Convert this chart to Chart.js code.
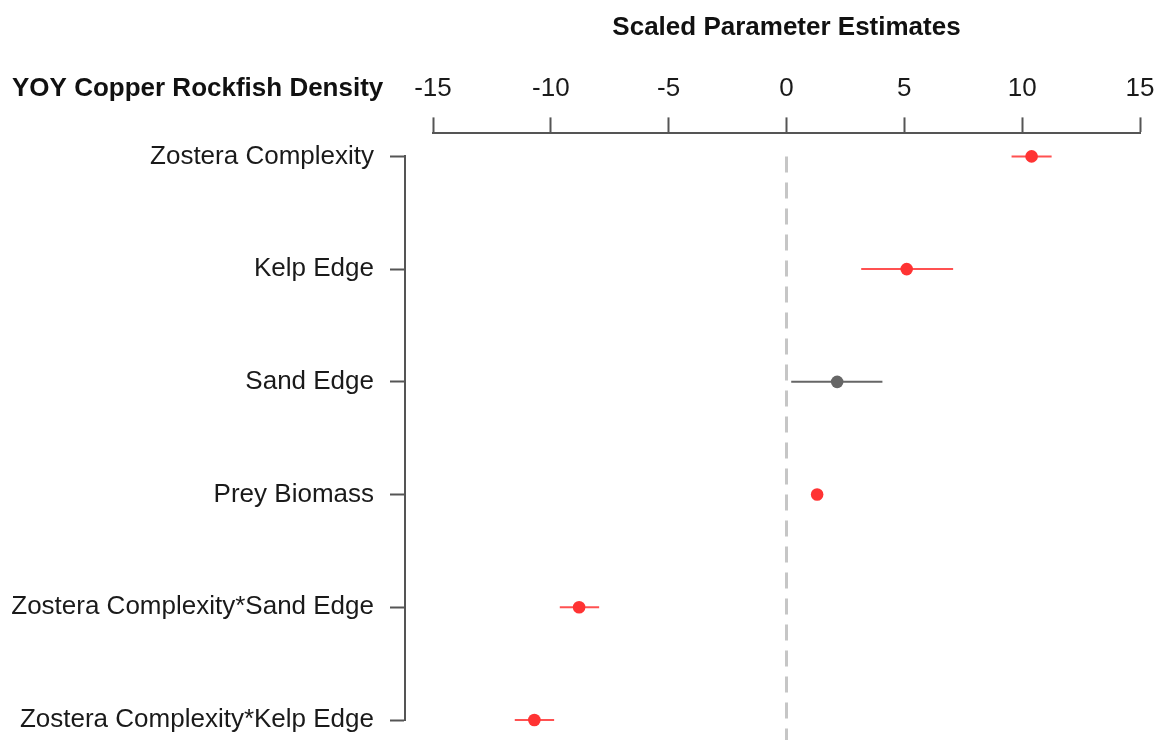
<!DOCTYPE html>
<html>
<head>
<meta charset="utf-8">
<title>YOY Copper Rockfish Density – Scaled Parameter Estimates</title>
<script src="https://cdn.jsdelivr.net/npm/chart.js@4/dist/chart.umd.min.js"></script>
<style>
  html, body { margin: 0; padding: 0; background: #ffffff; }
  #wrap { width: 1158px; height: 740px; }
</style>
</head>
<body>
<div id="wrap"><canvas id="chart" width="1158" height="740"></canvas></div>
<script>
// Model terms (top to bottom) and their scaled estimates with interval bounds
const categories = [
  'Zostera Complexity',
  'Kelp Edge',
  'Sand Edge',
  'Prey Biomass',
  'Zostera Complexity*Sand Edge',
  'Zostera Complexity*Kelp Edge'
];
const estimates = [10.4, 5.1, 2.15, 1.3, -8.8, -10.7];
const lower     = [9.55, 3.17, 0.2, 1.1, -9.62, -11.53];
const upper     = [11.25, 7.07, 4.07, 1.5, -7.95, -9.86];
const significant = [true, true, false, true, true, true];
const xTicks = [-15, -10, -5, 0, 5, 10, 15];

const responseLabel = 'YOY Copper Rockfish Density';
const axisTitle = 'Scaled Parameter Estimates';

const RED = '#ff3333';
const RED_BAR = 'rgba(255, 51, 51, 0.85)';
const GREY = '#666666';
const AXIS = '#555555';
const FONT = '"Liberation Sans", Arial, Helvetica, sans-serif';

Chart.defaults.font.family = FONT;
Chart.defaults.color = '#1a1a1a';

const rowIndex = categories.map((_, i) => i);
const yMax = 5.18; // leaves room below the last row for the zero reference line

// Interval segments, one line dataset per term
const intervalSets = rowIndex.map(i => ({
  type: 'line',
  data: [{ x: lower[i], y: i }, { x: upper[i], y: i }],
  borderColor: significant[i] ? RED_BAR : GREY,
  borderWidth: 2,
  pointRadius: 0,
  showLine: true,
  clip: false,
  order: 2
}));

// Dashed reference line at zero
const zeroLine = {
  type: 'line',
  data: [{ x: 0, y: 0 }, { x: 0, y: yMax }],
  borderColor: '#c6c6c6',
  borderWidth: 3,
  borderDash: [16, 10],
  pointRadius: 0,
  showLine: true,
  clip: false,
  order: 3
};

// Point estimates
const pointSet = {
  type: 'scatter',
  data: rowIndex.map(i => ({ x: estimates[i], y: i })),
  backgroundColor: rowIndex.map(i => significant[i] ? RED : GREY),
  borderColor: rowIndex.map(i => significant[i] ? RED : GREY),
  borderWidth: 0,
  pointRadius: 6.3,
  clip: false,
  order: 1
};

// Bold response label aligned with the top tick labels
const responseLabelPlugin = {
  id: 'responseLabel',
  afterDraw(chart) {
    const xs = chart.scales.x;
    const opts = xs.options;
    const lineH = 26 * 1.2;
    const y = xs.bottom - opts.grid.tickLength - opts.ticks.padding - lineH / 2;
    const ctx = chart.ctx;
    ctx.save();
    ctx.font = 'bold 26px ' + FONT;
    ctx.fillStyle = '#111111';
    ctx.textAlign = 'left';
    ctx.textBaseline = 'middle';
    ctx.fillText(responseLabel, 12, y);
    ctx.restore();
  }
};

new Chart(document.getElementById('chart'), {
  type: 'scatter',
  data: { datasets: [pointSet, ...intervalSets, zeroLine] },
  options: {
    responsive: false,
    animation: false,
    layout: { padding: { top: 0, left: 0, right: 18, bottom: 20 } },
    plugins: {
      legend: { display: false },
      tooltip: { enabled: false },
      title: { display: false }
    },
    scales: {
      x: {
        type: 'linear',
        position: 'top',
        weight: 1,
        min: -15,
        max: 15,
        afterBuildTicks: s => { s.ticks = xTicks.map(v => ({ value: v })); },
        afterFit: s => { s.paddingLeft = 0; s.paddingRight = 0; },
        ticks: {
          padding: 13,
          maxRotation: 0,
          minRotation: 0,
          autoSkip: false,
          font: { size: 26 },
          color: '#1a1a1a'
        },
        grid: {
          drawOnChartArea: false,
          drawTicks: true,
          tickLength: 16,
          tickColor: AXIS,
          tickWidth: 2
        },
        border: { display: true, color: AXIS, width: 2 },
        title: {
          display: true,
          text: axisTitle,
          font: { size: 26, weight: 'bold' },
          color: '#111111',
          padding: { top: 12, bottom: 17 }
        }
      },
      // gap between the estimate axis and the first row
      xGap: {
        type: 'linear',
        position: 'top',
        weight: 0,
        ticks: { display: false },
        grid: { display: false },
        border: { display: false },
        afterFit: s => { s.height = 23; s.paddingLeft = 0; s.paddingRight = 0; }
      },
      y: {
        type: 'linear',
        position: 'left',
        weight: 1,
        reverse: true,
        min: 0,
        max: 5,
        afterBuildTicks: s => { s.ticks = rowIndex.map(v => ({ value: v })); },
        afterFit: s => { s.width = 405; s.paddingTop = 0; s.paddingBottom = 0; },
        ticks: {
          padding: 16,
          autoSkip: false,
          font: { size: 26 },
          color: '#1a1a1a',
          callback: v => categories[v]
        },
        grid: {
          drawOnChartArea: false,
          drawTicks: true,
          tickLength: 15,
          tickColor: AXIS,
          tickWidth: 2
        },
        border: { display: true, color: AXIS, width: 2 }
      },
      // gap between the term axis and the estimate range
      yGap: {
        type: 'linear',
        position: 'left',
        weight: 0,
        ticks: { display: false },
        grid: { display: false },
        border: { display: false },
        afterFit: s => { s.width = 28; s.paddingTop = 0; s.paddingBottom = 0; }
      }
    }
  },
  plugins: [responseLabelPlugin]
});
</script>
</body>
</html>
